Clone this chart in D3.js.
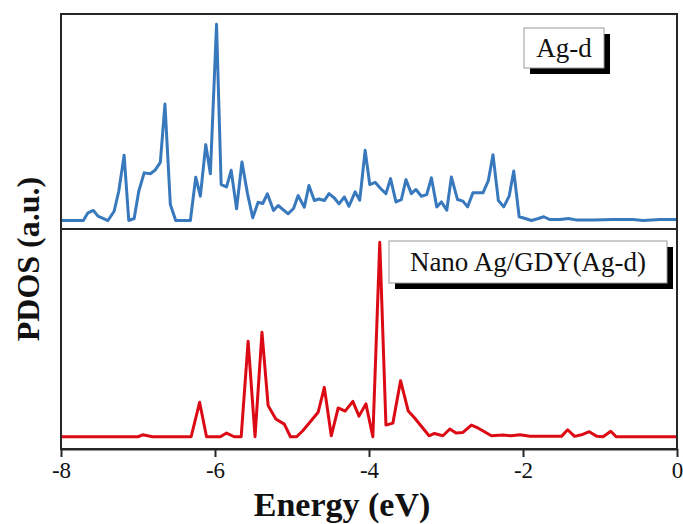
<!DOCTYPE html>
<html lang="en">
<head>
    <meta charset="UTF-8">
    <title>PDOS Ag-d</title>
    <style>
        body { margin: 0; background: #fff; }
        text { font-family: "Liberation Serif", "DejaVu Serif", serif; }
    </style>
</head>
<body>
<script src="https://d3js.org/d3.v7.min.js"></script>
<script>
    // Ag-d (top panel)
    var agE = [-8.00, -7.71, -7.65, -7.58, -7.52, -7.39, -7.31, -7.25, -7.18, -7.12, -7.05, -6.99, -6.92, -6.84, -6.78, -6.71,
        -6.65, -6.58, -6.51, -6.32, -6.25, -6.19, -6.12, -6.06, -5.98, -5.96, -5.92, -5.85, -5.79, -5.72, -5.65, -5.58,
        -5.51, -5.44, -5.38, -5.32, -5.24, -5.18, -5.05, -4.98, -4.92, -4.84, -4.78, -4.71, -4.65, -4.58, -4.52, -4.45,
        -4.39, -4.32, -4.26, -4.18, -4.12, -4.05, -3.99, -3.92, -3.85, -3.78, -3.72, -3.65, -3.58, -3.52, -3.45, -3.39,
        -3.32, -3.25, -3.19, -3.12, -3.06, -2.99, -2.93, -2.85, -2.78, -2.72, -2.65, -2.52, -2.45, -2.39, -2.32, -2.25,
        -2.18, -2.12, -2.05, -1.97, -1.89, -1.80, -1.73, -1.65, -1.52, -1.41, -1.30, -1.09, -0.83, -0.57, -0.44, -0.22, 0.00];
    var agDos = [0, 0, 3.9, 5.1, 2.2, 0, 4.7, 14.8, 33.0, 0, 1.0, 14.8, 24.1, 23.7, 25.4, 29.4,
        58.9, 8.1, 0, 0, 21.9, 12.3, 38.4, 23.7, 99.3, 72.0, 18.2, 17.0, 25.4, 5.9, 29.6, 14.0,
        1.4, 9.2, 8.6, 13.5, 5.1, 7.6, 3.4, 6.1, 12.6, 6.7, 17.7, 10.1, 10.9, 10.1, 13.6, 11.4,
        8.4, 11.9, 7.2, 14.5, 10.3, 35.5, 18.2, 19.3, 16.2, 13.6, 21.2, 9.4, 10.6, 20.7, 13.6, 15.7,
        12.3, 13.1, 21.6, 6.9, 9.4, 5.2, 22.0, 10.6, 9.8, 6.9, 14.0, 14.0, 20.2, 33.3, 10.1, 6.9,
        12.3, 25.0, 1.9, 1.0, 0, 1.0, 1.9, 0.5, 0.5, 1.0, 0.2, 0.2, 0.5, 0.5, 0, 0.5, 0.5];

    // Nano Ag/GDY (Ag-d) (bottom panel)
    var gdyE = [-8.00, -7.00, -6.94, -6.81, -6.31, -6.20, -6.11, -5.93, -5.85, -5.75, -5.66, -5.57, -5.48, -5.39, -5.31, -5.21,
        -5.10, -5.02, -4.94, -4.86, -4.66, -4.58, -4.49, -4.40, -4.31, -4.21, -4.13, -4.04, -3.95, -3.86, -3.78, -3.69,
        -3.59, -3.49, -3.41, -3.22, -3.15, -3.04, -2.95, -2.87, -2.78, -2.67, -2.58, -2.41, -2.26, -2.15, -2.04, -1.91,
        -1.50, -1.42, -1.33, -1.24, -1.14, -1.04, -0.96, -0.86, -0.79, 0.00];
    var gdyDos = [0, 0, 1.0, 0, 0, 17.7, 0, 0, 1.9, 0, 0, 49.1, 0, 53.7, 16.0, 9.1,
        6.5, 0, 0, 3.1, 12.6, 25.4, 0.5, 14.8, 13.2, 18.2, 10.6, 16.9, 0, 100, 6.0, 7.0,
        28.8, 13.2, 9.8, 0.5, 1.7, 0.5, 4.0, 1.9, 2.2, 6.0, 4.4, 0.5, 0.9, 0.5, 1.0, 0.2,
        0.2, 3.6, 0.2, 1.0, 2.6, 0.2, 0, 2.8, 0, 0];

    var xTicks = [-8, -6, -4, -2, 0];

    var width = 683, height = 524;
    var left = 61, right = 677, top1 = 14, mid = 229, bottom = 449;

    var svg = d3.select("body").append("svg").attr("width", width).attr("height", height);

    var x = d3.scaleLinear().domain([-8, 0]).range([left, right]);
    var y1 = d3.scaleLinear().domain([-4.3, 104.5]).range([mid, top1]);
    var y2 = d3.scaleLinear().domain([-6.3, 106.8]).range([bottom, mid]);

    var defs = svg.append("defs");
    defs.append("clipPath").attr("id", "clip1").append("rect")
        .attr("x", left).attr("y", top1).attr("width", right - left).attr("height", mid - top1);
    defs.append("clipPath").attr("id", "clip2").append("rect")
        .attr("x", left).attr("y", mid).attr("width", right - left).attr("height", bottom - mid);

    var line1 = d3.line().x(function(d, i){ return x(agE[i]); }).y(function(d){ return y1(d); });
    var line2 = d3.line().x(function(d, i){ return x(gdyE[i]); }).y(function(d){ return y2(d); });

    svg.append("path").attr("clip-path", "url(#clip1)")
        .attr("d", line1(agDos))
        .attr("fill", "none").attr("stroke", "#3878bd").attr("stroke-width", 3)
        .attr("stroke-linejoin", "round");

    svg.append("path").attr("clip-path", "url(#clip2)")
        .attr("d", line2(gdyDos))
        .attr("fill", "none").attr("stroke", "#dc0a14").attr("stroke-width", 3)
        .attr("stroke-linejoin", "round");

    // frames
    svg.append("rect").attr("x", left).attr("y", top1).attr("width", right - left).attr("height", mid - top1)
        .attr("fill", "none").attr("stroke", "#262626").attr("stroke-width", 2);
    svg.append("rect").attr("x", left).attr("y", mid).attr("width", right - left).attr("height", bottom - mid)
        .attr("fill", "none").attr("stroke", "#262626").attr("stroke-width", 2);

    // x axis
    var xAxis = svg.append("g").attr("transform", "translate(0," + bottom + ")")
        .call(d3.axisBottom(x).tickValues(xTicks).tickSize(8).tickSizeOuter(0).tickPadding(5));
    xAxis.select(".domain").attr("stroke", "#262626").attr("stroke-width", 2);
    xAxis.selectAll(".tick line").attr("stroke", "#262626").attr("stroke-width", 2);
    xAxis.selectAll(".tick text")
        .style("font-family", '"Liberation Serif", serif').style("font-size", "23px").attr("fill", "#111")
        .text(function(d){ return d; });

    svg.append("text").attr("x", 342).attr("y", 516).attr("text-anchor", "middle")
        .style("font-size", "34px").style("font-weight", "bold").attr("fill", "#111")
        .text("Energy (eV)");

    svg.append("text").attr("transform", "translate(39,259) rotate(-90)").attr("text-anchor", "middle")
        .style("font-size", "32px").style("font-weight", "bold").attr("fill", "#111")
        .text("PDOS (a.u.)");

    // legends
    function legend(x0, y0, w, h, label){
        svg.append("rect").attr("x", x0 + 6).attr("y", y0 + 6).attr("width", w).attr("height", h).attr("fill", "#000");
        svg.append("rect").attr("x", x0).attr("y", y0).attr("width", w).attr("height", h)
            .attr("fill", "#fff").attr("stroke", "#9a9a9a").attr("stroke-width", 1);
        svg.append("text").attr("x", x0 + w / 2).attr("y", y0 + h / 2 + 9).attr("text-anchor", "middle")
            .style("font-size", "27px").attr("fill", "#111").text(label);
    }
    legend(524, 28, 80, 40, "Ag-d");
    legend(389, 241, 278, 42, "Nano Ag/GDY(Ag-d)");
</script>
</body>
</html>
